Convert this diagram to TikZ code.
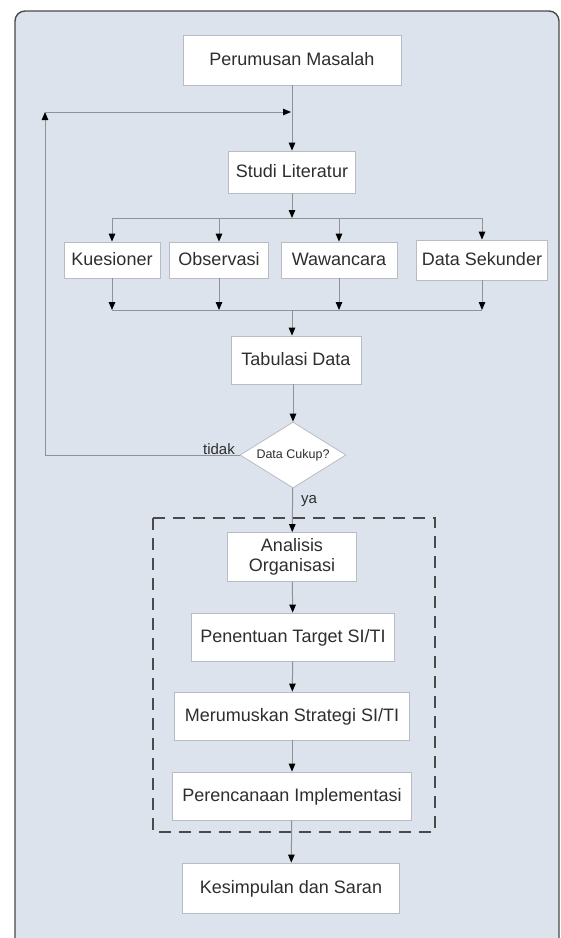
\documentclass[tikz,border=0pt]{standalone}
\usepackage{fontspec}
\setmainfont{Liberation Sans}
\usepackage{tikz}
\usetikzlibrary{arrows.meta, shapes.geometric}
\usepackage{xcolor}
\definecolor{panel}{HTML}{DCE3EC}
\definecolor{boxline}{HTML}{B9BCC2}
\definecolor{wire}{HTML}{8E939B}
\definecolor{ink}{HTML}{2E2E2E}
\definecolor{rim}{HTML}{4A4A4A}

\begin{document}
\begin{tikzpicture}[
    x=1pt, y=-1pt,
    box/.style={draw=boxline, fill=white, line width=0.8pt, inner sep=0pt,
        text=ink, align=center, font=\fontsize{18}{21}\selectfont},
    onebox/.style={box, text height=13pt, text depth=2pt},
    line/.style={draw=wire, line width=1pt},
    arrow/.style={line, -{Triangle[length=8pt, width=6.5pt, color=black]}},
    lbl/.style={text=ink, inner sep=0pt, font=\fontsize{15}{17}\selectfont}
    ]
    \useasboundingbox (0, 0) rectangle (561, 938);
    \clip (0, 0) rectangle (561, 938);

    % Panel
    \draw[
        rim,
        line width=1.4pt,
        fill=panel,
        rounded corners=10pt
        ]
        (15, 11) rectangle (559, 960);

    % Steps
    \node[onebox, minimum width=218pt, minimum height=50pt] (perumusan) at (292, 60) {Perumusan Masalah};
    \node[onebox, minimum width=127pt, minimum height=42pt] (studi) at (292, 172) {Studi Literatur};
    \node[onebox, minimum width=96pt, minimum height=36pt] (kuesioner) at (112, 260) {Kuesioner};
    \node[onebox, minimum width=99pt, minimum height=36pt] (observasi) at (219, 260) {Observasi};
    \node[onebox, minimum width=116pt, minimum height=36pt] (wawancara) at (339, 260) {Wawancara};
    \node[onebox, minimum width=131pt, minimum height=40pt] (sekunder) at (482, 260) {Data Sekunder};
    \node[onebox, minimum width=130pt, minimum height=48pt] (tabulasi) at (296, 360) {Tabulasi Data};
    \node[
        diamond,
        draw=boxline,
        fill=white,
        line width=0.8pt,
        inner sep=0pt,
        aspect=1.6,
        minimum width=106pt,
        minimum height=66pt,
        text=ink,
        font=\fontsize{12.5}{14}\selectfont
        ] (cukup) at (293, 455) {Data Cukup?};
    \node[box, minimum width=129pt, minimum height=49pt, font=\fontsize{18}{20}\selectfont] (analisis) at (292, 557) {Analisis\\Organisasi};
    \node[onebox, minimum width=203pt, minimum height=48pt] (penentuan) at (293, 637) {Penentuan Target SI/TI};
    \node[onebox, minimum width=235pt, minimum height=48pt] (merumuskan) at (292, 716) {Merumuskan Strategi SI/TI};
    \node[onebox, minimum width=239pt, minimum height=48pt] (perencanaan) at (292, 796) {Perencanaan Implementasi};
    \node[onebox, minimum width=217pt, minimum height=50pt] (kesimpulan) at (291, 888) {Kesimpulan dan Saran};

    % Labels
    \node[lbl, anchor=east] (tidak) at (235, 449) {tidak};
    \node[lbl] (ya) at (309, 501) {ya};

    % Joints
    \coordinate (loopcorner) at (45, 112);
    \coordinate (loopjoin) at (291, 112);
    \coordinate (split) at (292, 218);
    \coordinate (merge) at (292, 310);

    % Top part
    \draw[arrow] (perumusan) -- (studi);
    \draw[arrow] (cukup.west) -- (cukup.west -| loopcorner) -- (loopcorner);
    \draw[arrow] (loopcorner) -- (loopjoin);
    \draw[arrow] (studi) -- (split);
    \draw[line] (kuesioner |- split) -- (sekunder |- split);
    \draw[line] (kuesioner |- merge) -- (sekunder |- merge);
    \foreach \n in {kuesioner, observasi, wawancara, sekunder} {
        \draw[arrow] (\n |- split) -- (\n);
        \draw[arrow] (\n) -- (\n |- merge);
    }
    \draw[arrow] (merge) -- (merge |- tabulasi.north);
    \draw[arrow] (tabulasi.south -| cukup) -- (cukup);

    % Analysis group
    \draw[
        rim,
        line width=2.2pt,
        dash pattern=on 12pt off 8pt
        ]
        (153, 518) rectangle (435, 832);
    \draw[arrow] (cukup) -- (analisis);
    \foreach \a/\b in {analisis/penentuan, penentuan/merumuskan, merumuskan/perencanaan, perencanaan/kesimpulan}
        \draw[arrow] (\a) -- (\b);
\end{tikzpicture}
\end{document}
